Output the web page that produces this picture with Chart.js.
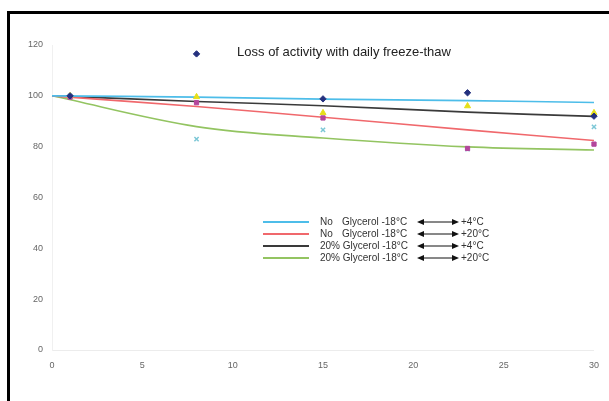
<!DOCTYPE html>
<html>
<head>
<meta charset="utf-8">
<script src="https://cdn.jsdelivr.net/npm/chart.js@4/dist/chart.umd.min.js"></script>
<style>
  html, body { margin: 0; padding: 0; background: #fff; }
  #wrap { position: relative; width: 609px; height: 401px; overflow: hidden; }
  #frame { position: absolute; left: 7px; top: 11px; width: 700px; height: 500px;
           border-left: 3px solid #000; border-top: 3px solid #000; }
  canvas { position: absolute; left: 0; top: 0; }
</style>
</head>
<body>
<div id="wrap">
  <div id="frame"></div>
  <canvas id="c" width="609" height="401"></canvas>
</div>
<script>
// Measured points (days vs % activity)
const days = [1, 8, 15, 23, 30];
const noGly4 = [100, 116.5, 98.8, 101.2, 92];     // blue diamonds
const noGly20 = [99.5, 97.3, 91.3, 79.3, 81];     // magenta squares
const gly4 = [100, 99.6, 93.3, 96, 93.3];         // yellow triangles
const gly20 = [100, 83, 86.6, 79, 87.8];          // cyan crosses

// Trend lines
const trendDays = [0, 8, 15, 23, 30];
const trendNoGly4 = [100, 99.5, 98.7, 98.1, 97.4];
const trendNoGly20 = [100, 95.8, 91.6, 86.6, 82.4];
const trendGly4 = [100, 97.8, 96.1, 93.6, 91.9];
const trendGly20 = [100, 87.9, 83.4, 79.9, 78.7];

const xTicks = [0, 5, 10, 15, 20, 25, 30];
const yTicks = [0, 20, 40, 60, 80, 100, 120];

const legendLabels = [
  ['No', 'Glycerol -18°C', '+4°C'],
  ['No', 'Glycerol -18°C', '+20°C'],
  ['20% Glycerol -18°C', '', '+4°C'],
  ['20% Glycerol -18°C', '', '+20°C']
];
const lineColors = ['#4dbde9', '#f0686c', '#3a3a3a', '#93c461'];

const pts = (xs, ys) => xs.map((x, i) => ({ x: x, y: ys[i] }));

function trend(ys, color, order) {
  return { type: 'line', data: pts(trendDays, ys), borderColor: color, borderWidth: 1.6,
           pointRadius: 0, tension: 0.35, fill: false, order: order, clip: false };
}
function marks(ys, style, color, r, order) {
  return { type: 'scatter', data: pts(days, ys), pointStyle: style, pointRadius: r,
           backgroundColor: color, borderColor: color, borderWidth: style === 'crossRot' ? 1.5 : 1,
           showLine: false, order: order, clip: false };
}

const overlay = {
  id: 'overlay',
  afterDraw(chart) {
    const ctx = chart.ctx;
    ctx.save();
    ctx.fillStyle = '#222';
    ctx.font = '13px "Liberation Sans", Arial, sans-serif';
    ctx.textBaseline = 'middle';
    ctx.textAlign = 'center';
    ctx.fillText('Loss of activity with daily freeze-thaw', 344, 52);

    ctx.font = '10px "Liberation Sans", Arial, sans-serif';
    ctx.textAlign = 'left';
    const rows = [222, 234, 246, 258];
    rows.forEach((y, i) => {
      ctx.strokeStyle = lineColors[i];
      ctx.lineWidth = 2;
      ctx.beginPath(); ctx.moveTo(263, y); ctx.lineTo(309, y); ctx.stroke();
      ctx.fillStyle = '#333';
      const lab = legendLabels[i];
      ctx.fillText(lab[0], 320, y);
      if (lab[1]) ctx.fillText(lab[1], 342, y);
      // double arrow
      ctx.strokeStyle = '#111';
      ctx.lineWidth = 1;
      ctx.beginPath(); ctx.moveTo(422, y); ctx.lineTo(454, y); ctx.stroke();
      ctx.fillStyle = '#111';
      ctx.beginPath(); ctx.moveTo(417, y); ctx.lineTo(424, y - 3); ctx.lineTo(424, y + 3); ctx.closePath(); ctx.fill();
      ctx.beginPath(); ctx.moveTo(459, y); ctx.lineTo(452, y - 3); ctx.lineTo(452, y + 3); ctx.closePath(); ctx.fill();
      ctx.fillStyle = '#333';
      ctx.fillText(lab[2], 461, y);
    });
    ctx.restore();
  }
};

new Chart(document.getElementById('c'), {
  data: {
    datasets: [
      marks(noGly4, 'rectRot', '#24307e', 3.2, 1),
      marks(noGly20, 'rect', '#b4469c', 3, 2),
      marks(gly4, 'triangle', '#e6df1a', 3.5, 3),
      marks(gly20, 'crossRot', '#7cc7d6', 3, 4),
      trend(trendNoGly4, lineColors[0], 5),
      trend(trendNoGly20, lineColors[1], 6),
      trend(trendGly4, lineColors[2], 7),
      trend(trendGly20, lineColors[3], 8)
    ]
  },
  options: {
    responsive: false,
    animation: false,
    layout: { padding: { left: 0, right: 15, top: 45, bottom: 0 } },
    plugins: { legend: { display: false }, tooltip: { enabled: false }, title: { display: false } },
    scales: {
      x: {
        type: 'linear', min: 0, max: 30,
        afterBuildTicks: (s) => { s.ticks = xTicks.map(v => ({ value: v })); },
        grid: { display: false, drawTicks: false },
        border: { display: true, color: '#ececec', width: 1 },
        ticks: { color: '#666', padding: 10, maxRotation: 0, font: { size: 9, family: '"Liberation Sans", Arial, sans-serif' } },
        afterFit: (s) => { s.height = 401 - 350; }
      },
      y: {
        type: 'linear', min: 0, max: 120,
        afterBuildTicks: (s) => { s.ticks = yTicks.map(v => ({ value: v })); },
        grid: { display: false, drawTicks: false },
        border: { display: true, color: '#f0f0f0', width: 1 },
        ticks: { color: '#666', padding: 9, font: { size: 9, family: '"Liberation Sans", Arial, sans-serif' } },
        afterFit: (s) => { s.width = 52; }
      }
    }
  },
  plugins: [overlay]
});
</script>
</body>
</html>
